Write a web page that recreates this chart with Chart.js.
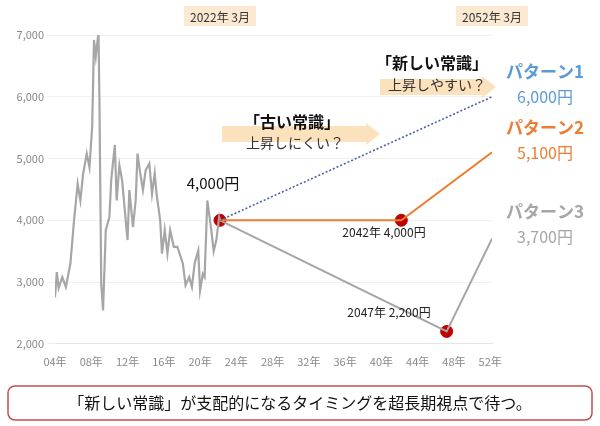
<!DOCTYPE html><html><head><meta charset="utf-8">
<script src="https://cdn.jsdelivr.net/npm/chart.js@4"></script>
<style>html,body{margin:0;padding:0;background:#fff}#w{width:600px;height:426px;position:relative}</style></head><body><div id="w"><canvas id="c"></canvas></div>
<script>
const histYears=[2004.0,2004.2,2004.4,2004.8,2005.2,2005.7,2006.1,2006.5,2006.8,2007.1,2007.5,2007.8,2008.1,2008.3,2008.5,2008.8,2008.9,2009.1,2009.3,2009.6,2010.0,2010.2,2010.6,2010.8,2011.1,2011.4,2011.8,2012.0,2012.2,2012.6,2012.9,2013.1,2013.4,2013.7,2014.0,2014.4,2014.7,2015.0,2015.2,2015.6,2015.8,2016.1,2016.4,2016.7,2017.1,2017.5,2018.1,2018.4,2018.8,2019.1,2019.4,2019.8,2020.0,2020.3,2020.5,2020.8,2021.2,2021.5,2021.8,2022.1,2022.2];
const histValues=[2750,3160,2900,3080,2920,3300,4000,4590,4320,4750,5080,4860,5510,6920,6650,7050,5950,2970,2540,3840,4050,4650,5220,4320,4890,4650,4000,3680,4490,3890,4320,5080,4760,4490,4810,4920,4430,4760,4430,4000,3460,3840,3460,3840,3570,3570,3300,2950,3080,2920,3300,3510,2860,3130,3080,4320,3890,3500,3680,4050,4000];
const p1Years=[2022.2,2052.2], p1Values=[4000,6000];
const p2Years=[2022.2,2042.2,2052.2], p2Values=[4000,4000,5100];
const p3Years=[2022.2,2047.2,2052.2], p3Values=[4000,2200,3700];
const dotYears=[2022.2,2042.2,2047.2], dotValues=[4000,4000,2200];
const xTicks=[2004,2008,2012,2016,2020,2024,2028,2032,2036,2040,2044,2048,2052];
const yTicks=[2000,3000,4000,5000,6000,7000];
const zip=(a,b)=>a.map((x,i)=>({x,y:b[i]}));
const F='"Noto Sans CJK JP","Noto Sans",sans-serif';
const ann={id:'ann',afterDraw(ch){
 const c=ch.ctx,xs=ch.scales.x,ys=ch.scales.y;const X=v=>xs.getPixelForValue(v),Y=v=>ys.getPixelForValue(v);
 c.save();
 function box(t,cx,cy){c.font='12px '+F;const w=c.measureText(t).width+12;c.fillStyle='#fbe9d2';c.fillRect(cx-w/2,cy-10,w,20);c.fillStyle='#333';c.textAlign='center';c.textBaseline='middle';c.fillText(t,cx,cy+1);}
 box('2022年 3月',X(2022.2),16);box('2052年 3月',X(2052.2),16);
 function arrow(x0,x1,yc,h){c.fillStyle='rgba(250,215,165,0.75)';c.beginPath();c.moveTo(x0,yc-h/2);c.lineTo(x1-14,yc-h/2);c.lineTo(x1-14,yc-h/2-3);c.lineTo(x1,yc);c.lineTo(x1-14,yc+h/2+3);c.lineTo(x1-14,yc+h/2);c.lineTo(x0,yc+h/2);c.closePath();c.fill();}
 arrow(222,380,134,16);arrow(380,496,87,16);
 c.textAlign='center';c.textBaseline='middle';c.fillStyle='#111';
 c.font='bold 16px '+F;c.fillText('「古い常識」',292,122);c.fillText('「新しい常識」',432,63);
 c.font='14px '+F;c.fillStyle='#333';c.fillText('上昇しにくい？',295,143);c.fillText('上昇しやすい？',437,85);
 c.font='15px '+F;c.fillStyle='#111';c.fillText('4,000円',213,183);
 c.font='12px '+F;c.fillStyle='#222';c.fillText('2042年 4,000円',384,232);c.fillText('2047年 2,200円',389,312);
 [['パターン1','6,000円','#5b9bd5',72],['パターン2','5,100円','#ed7d31',128],['パターン3','3,700円','#a6a6a6',212]].forEach(r=>{c.fillStyle=r[2];c.font='bold 17px '+F;c.fillText(r[0],545,r[3]);c.font='16px '+F;c.fillText(r[1],545,r[3]+25);});
 c.strokeStyle='#c0504d';c.lineWidth=1.5;c.fillStyle='#fff';c.beginPath();c.roundRect(8,386,584,34,7);c.fill();c.stroke();
 c.fillStyle='#111';c.font='16px '+F;c.fillText('「新しい常識」が支配的になるタイミングを超長期視点で待つ。',300,403);
 c.restore();}};
new Chart(document.getElementById('c'),{type:'line',data:{datasets:[
 {data:zip(histYears,histValues),borderColor:'#a6a6a6',borderWidth:2.2,pointRadius:0,tension:0},
 {data:zip(p1Years,p1Values),borderColor:'#4a5fa8',borderWidth:1.6,borderDash:[2,2],pointRadius:0},
 {data:zip(p2Years,p2Values),borderColor:'#ed7d31',borderWidth:2,pointRadius:0},
 {data:zip(p3Years,p3Values),borderColor:'#a6a6a6',borderWidth:2,pointRadius:0},
 {data:zip(dotYears,dotValues),showLine:false,pointRadius:6,pointBackgroundColor:'#c00000',pointBorderColor:'#c00000'}
]},options:{responsive:true,maintainAspectRatio:false,animation:false,
 layout:{padding:{top:35,right:108,bottom:55,left:0}},
 plugins:{legend:{display:false},tooltip:{enabled:false}},
 scales:{x:{type:'linear',min:2004,max:2052.2,afterBuildTicks:a=>{a.ticks=xTicks.map(v=>({value:v}))},grid:{display:false},border:{color:'#e5e5e5'},
   ticks:{color:'#888',font:{size:11,family:F},callback:v=>String(v).slice(2)+'年',maxRotation:0}},
  y:{min:2000,max:7000,afterBuildTicks:a=>{a.ticks=yTicks.map(v=>({value:v}))},afterFit:a=>{a.width=55},grid:{color:'#f0f0f0'},border:{display:false},
   ticks:{color:'#888',font:{size:11,family:F},callback:v=>v.toLocaleString('en-US')}}}},plugins:[ann]});
</script></body></html>
